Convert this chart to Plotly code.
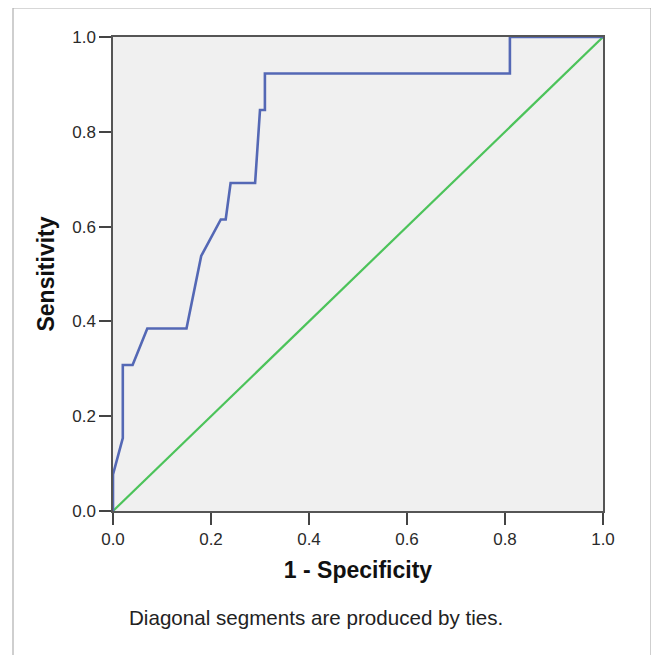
import plotly.graph_objects as go

# ROC curve points (1 - Specificity, Sensitivity)
fpr = [0.0, 0.0, 0.02, 0.02, 0.04, 0.07, 0.15, 0.18, 0.22, 0.23, 0.24, 0.29, 0.30, 0.31, 0.31, 0.81, 0.81, 1.0]
tpr = [0.0, 0.077, 0.154, 0.308, 0.308, 0.385, 0.385, 0.538, 0.615, 0.615, 0.692, 0.692, 0.846, 0.846, 0.923, 0.923, 1.0, 1.0]
ref_x = [0.0, 1.0]
ref_y = [0.0, 1.0]
tick_vals = [0.0, 0.2, 0.4, 0.6, 0.8, 1.0]
tick_text = ["0.0", "0.2", "0.4", "0.6", "0.8", "1.0"]

OFF = 8  # page body margin
W, H = 659, 655
L, T = 113 - OFF, 37 - OFF
pw, ph = 490, 474
R = W - L - pw
B = H - T - ph

def px_x(p):
    return (p - 113) / pw

def px_y(p):
    return (511 - p) / ph

FONT = "Liberation Sans, Arial, sans-serif"

fig = go.Figure()
fig.add_trace(go.Scatter(x=ref_x, y=ref_y, mode="lines",
                         line=dict(color="#4cc35a", width=2.2), hoverinfo="skip"))
fig.add_trace(go.Scatter(x=fpr, y=tpr, mode="lines",
                         line=dict(color="#5468b5", width=2.6)))

axis_common = dict(
    range=[0, 1], tickvals=tick_vals, ticktext=tick_text,
    showgrid=False, zeroline=False, showline=True, linecolor="#555555", linewidth=1.5,
    mirror=True, ticks="outside", ticklen=12, tickwidth=2, tickcolor="#444444",
    tickfont=dict(family=FONT, size=17, color="#2a2a2a"),
)

fig.update_layout(
    width=W, height=H,
    margin=dict(l=L, r=R, t=T, b=B, pad=0),
    paper_bgcolor="white", plot_bgcolor="#f0f0f0",
    showlegend=False,
    xaxis=dict(**axis_common,
               title=dict(text="<b>1 - Specificity</b>", standoff=14,
                          font=dict(family=FONT, size=23, color="#111111"))),
    yaxis=dict(**axis_common,
               title=dict(text="<b>Sensitivity</b>", standoff=11,
                          font=dict(family=FONT, size=23, color="#111111"))),
    shapes=[dict(type="rect", xref="paper", yref="paper",
                 x0=px_x(13), x1=px_x(651), y0=px_y(680), y1=px_y(8),
                 line=dict(color="#b0b0b0", width=1.2), fillcolor="rgba(0,0,0,0)", layer="below")],
    annotations=[dict(text="Diagonal segments are produced by ties.", xref="paper", yref="paper",
                      x=px_x(127), y=px_y(617), xanchor="left", yanchor="middle", showarrow=False,
                      font=dict(family=FONT, size=20.6, color="#222222"))],
)

fig.write_html("out.html")
